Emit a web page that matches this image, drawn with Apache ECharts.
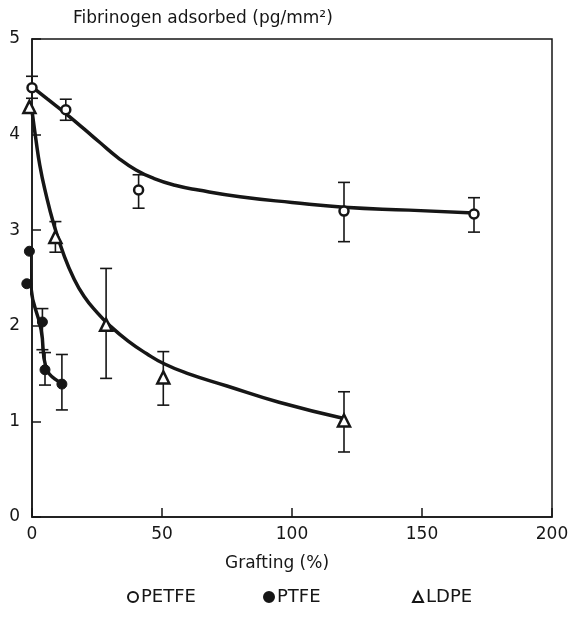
<!DOCTYPE html>
<html>
<head>
<meta charset="utf-8">
<script src="https://cdn.jsdelivr.net/npm/echarts@6/dist/echarts.min.js"></script>
<style>
  html, body { margin: 0; background: #fff; }
  #chart { width: 575px; height: 617px; }
</style>
</head>
<body>
<div id="chart"></div>
<script>
// measured points [grafting %, adsorbed]
const petfePoints = [[0, 4.49], [13, 4.26], [41, 3.42], [120, 3.2], [170, 3.17]];
const petfeErrors = [[0, 4.38, 4.61], [13, 4.15, 4.37], [41, 3.23, 3.58], [120, 2.88, 3.5], [170, 2.98, 3.34]];
const petfeCurve = [[0, 4.5], [6, 4.37], [13, 4.22], [20, 4.06], [26, 3.92], [33, 3.76], [40, 3.63], [47, 3.54],
  [55, 3.47], [64, 3.42], [80, 3.35], [100, 3.29], [120, 3.24], [145, 3.21], [170, 3.18]];

const ptfePoints = [[-1, 2.78], [-2, 2.44], [4, 2.04], [5, 1.54], [11.5, 1.39]];
const ptfeErrors = [[4, 1.75, 2.18], [5, 1.38, 1.72], [11.5, 1.12, 1.7]];
const ptfeCurve = [[-1, 2.8], [-0.4, 2.4], [3.5, 1.96], [5.4, 1.56], [11.5, 1.4]];

const ldpePoints = [[-1, 4.29], [9, 2.93], [28.5, 2.01], [50.5, 1.46], [120, 1.01]];
const ldpeErrors = [[9, 2.77, 3.09], [28.5, 1.45, 2.6], [50.5, 1.17, 1.73], [120, 0.68, 1.31]];
const ldpeCurve = [[0, 4.25], [1.5, 3.95], [3, 3.68], [5, 3.42], [8.5, 3.05], [12, 2.76], [16, 2.5], [20, 2.31],
  [25, 2.14], [30, 2.0], [37, 1.84], [44, 1.71], [51, 1.6], [60, 1.5], [75, 1.37], [95, 1.2], [120, 1.03]];

const legendNames = ['PETFE', 'PTFE', 'LDPE'];

const xTicks = { min: 0, max: 200, interval: 50 };
const yTicks = { min: 0, max: 5, interval: 1 };

const ink = '#161616';
const font = 'DejaVu Sans';

function errorBars(params, api) {
  const x = api.value(0);
  const lo = api.coord([x, api.value(1)]);
  const hi = api.coord([x, api.value(2)]);
  const w = 6;
  const style = { stroke: ink, lineWidth: 1.6 };
  return {
    type: 'group',
    children: [
      { type: 'line', shape: { x1: lo[0], y1: lo[1], x2: hi[0], y2: hi[1] }, style },
      { type: 'line', shape: { x1: lo[0] - w, y1: lo[1], x2: lo[0] + w, y2: lo[1] }, style },
      { type: 'line', shape: { x1: hi[0] - w, y1: hi[1], x2: hi[0] + w, y2: hi[1] }, style }
    ]
  };
}

function curve(data) {
  return {
    type: 'line', data, smooth: 0.5, symbol: 'none', clip: false, silent: true,
    lineStyle: { color: ink, width: 3.5 }, z: 2
  };
}

function bars(data) {
  return { type: 'custom', data, renderItem: errorBars, encode: { x: 0, y: [1, 2] }, clip: false, silent: true, z: 1 };
}

function legendAt(name, left) {
  return {
    left, bottom: 6, itemWidth: 10, itemHeight: 10, data: [name],
    textStyle: { fontFamily: font, fontSize: 18, color: ink, padding: [0, 0, 0, -2] }
  };
}

const chart = echarts.init(document.getElementById('chart'));
chart.setOption({
  animation: false,
  textStyle: { fontFamily: font, color: ink },
  title: {
    text: 'Fibrinogen adsorbed (pg/mm²)',
    left: 68, top: 5,
    textStyle: { fontFamily: font, fontSize: 17, fontWeight: 'normal', color: ink }
  },
  grid: { left: 32, right: 23, top: 39, bottom: 100, show: true, borderColor: ink, borderWidth: 1.5 },
  legend: [legendAt(legendNames[0], 122), legendAt(legendNames[1], 258), legendAt(legendNames[2], 407)],
  xAxis: {
    type: 'value', min: xTicks.min, max: xTicks.max, interval: xTicks.interval,
    name: 'Grafting (%)', nameLocation: 'middle', nameGap: 38,
    nameTextStyle: { fontFamily: font, fontSize: 17, color: ink, padding: [0, 30, 0, 0] },
    axisLine: { lineStyle: { color: ink, width: 1.5 } },
    axisTick: { inside: true, length: 9, lineStyle: { color: ink, width: 1.5 } },
    axisLabel: { fontSize: 17, color: ink, margin: 9 },
    splitLine: { show: false }
  },
  yAxis: {
    type: 'value', min: yTicks.min, max: yTicks.max, interval: yTicks.interval,
    axisLine: { show: true, lineStyle: { color: ink, width: 1.5 } },
    axisTick: { show: true, inside: true, length: 9, lineStyle: { color: ink, width: 1.5 } },
    axisLabel: { fontSize: 17, color: ink, margin: 12 },
    splitLine: { show: false }
  },
  series: [
    bars(petfeErrors),
    bars(ptfeErrors),
    bars(ldpeErrors),
    curve(petfeCurve),
    curve(ptfeCurve),
    curve(ldpeCurve),
    {
      name: 'PETFE', type: 'scatter', data: petfePoints, symbol: 'circle', symbolSize: 9, clip: false, z: 5,
      itemStyle: { color: '#fff', borderColor: ink, borderWidth: 2.5, opacity: 1 }
    },
    {
      name: 'PTFE', type: 'scatter', data: ptfePoints, symbol: 'circle', symbolSize: 10, clip: false, z: 5,
      itemStyle: { color: ink, borderColor: ink, borderWidth: 1, opacity: 1 }
    },
    {
      name: 'LDPE', type: 'scatter', data: ldpePoints, symbol: 'triangle', symbolSize: 12, clip: false, z: 5,
      itemStyle: { color: '#fff', borderColor: ink, borderWidth: 2.5, opacity: 1 }
    }
  ]
});
</script>
</body>
</html>
